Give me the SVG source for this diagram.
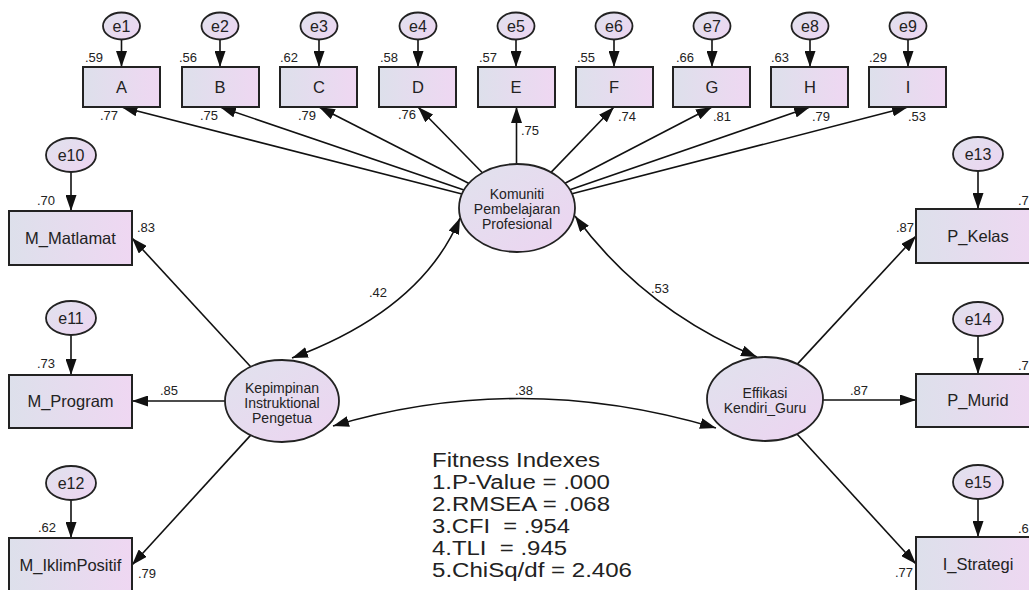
<svg xmlns="http://www.w3.org/2000/svg" width="1029" height="590" viewBox="0 0 1029 590">
<style>
.box{stroke:#222;stroke-width:2;fill:url(#gb)}
.lat{stroke:#222;stroke-width:1.8;fill:url(#ge)}
.err{stroke:#222;stroke-width:1.8;fill:url(#ge)}
.ln{stroke:#111;stroke-width:1.6;fill:none;marker-end:url(#ah)}
.cv{stroke:#111;stroke-width:1.6;fill:none;marker-end:url(#ah);marker-start:url(#ah)}
text{font-family:"Liberation Sans",Arial,sans-serif;fill:#222}
.bl{font-size:16.5px;text-anchor:middle}
.el{font-size:16px;text-anchor:middle}
.ll{font-size:14px;text-anchor:middle}
.nm{font-size:13px}
.fit{font-size:20px;white-space:pre}
</style>
<defs>
<linearGradient id="gb" x1="0" y1="0" x2="1" y2="0"><stop offset="0" stop-color="#dde0eb"/><stop offset="1" stop-color="#efd7f2"/></linearGradient>
<linearGradient id="ge" x1="0" y1="0" x2="1" y2="1"><stop offset="0" stop-color="#e0e2ed"/><stop offset="1" stop-color="#edd4f1"/></linearGradient>
<marker id="ah" viewBox="0 0 16 11" refX="16" refY="5.5" markerWidth="16" markerHeight="11" markerUnits="userSpaceOnUse" orient="auto-start-reverse"><path d="M0,0 L16,5.5 L0,11 z" fill="#111"/></marker>
</defs>
<rect width="1029" height="590" fill="#fff"/>

<g id="connectors">
<line class="ln" x1="121.5" y1="39.5" x2="121.5" y2="67"/>
<line class="ln" x1="220" y1="39.5" x2="220" y2="67"/>
<line class="ln" x1="319" y1="39.5" x2="319" y2="67"/>
<line class="ln" x1="418" y1="39.5" x2="418" y2="67"/>
<line class="ln" x1="516" y1="39.5" x2="516" y2="67"/>
<line class="ln" x1="614" y1="39.5" x2="614" y2="67"/>
<line class="ln" x1="712" y1="39.5" x2="712" y2="67"/>
<line class="ln" x1="810" y1="39.5" x2="810" y2="67"/>
<line class="ln" x1="908" y1="39.5" x2="908" y2="67"/>
<line class="ln" x1="71" y1="172" x2="71" y2="211"/>
<line class="ln" x1="71" y1="335" x2="71" y2="375"/>
<line class="ln" x1="71" y1="500" x2="71" y2="538"/>
<line class="ln" x1="978" y1="171" x2="978" y2="209"/>
<line class="ln" x1="978" y1="336" x2="978" y2="374"/>
<line class="ln" x1="978" y1="499" x2="978" y2="537"/>
<line class="ln" x1="462" y1="194" x2="121.5" y2="107"/>
<line class="ln" x1="464" y1="190" x2="220" y2="107"/>
<line class="ln" x1="469" y1="183.5" x2="319" y2="107"/>
<line class="ln" x1="482.4" y1="172.7" x2="418" y2="107"/>
<line class="ln" x1="516.5" y1="164" x2="516.5" y2="107"/>
<line class="ln" x1="551" y1="172.4" x2="614" y2="107"/>
<line class="ln" x1="565" y1="183.2" x2="712" y2="107"/>
<line class="ln" x1="570" y1="189.8" x2="810" y2="107"/>
<line class="ln" x1="572" y1="193.8" x2="908" y2="107"/>
<line class="ln" x1="250.7" y1="366.7" x2="132" y2="238"/>
<line class="ln" x1="225" y1="401" x2="132" y2="401"/>
<line class="ln" x1="250.5" y1="435.4" x2="132" y2="565"/>
<line class="ln" x1="797.3" y1="364.1" x2="916" y2="236"/>
<line class="ln" x1="823" y1="400" x2="916" y2="400"/>
<line class="ln" x1="797" y1="434" x2="916" y2="564"/>
<path class="cv" d="M292,358 Q421.5,310 460,218"/>
<path class="cv" d="M575,216 Q644,310 757,357"/>
<path class="cv" d="M333,426 Q521,370 716,428"/>
</g>

<g id="e1"><ellipse class="err" cx="121.5" cy="26" rx="18.5" ry="13.5"/><text class="el" x="121.5" y="32">e1</text></g>
<g id="e2"><ellipse class="err" cx="220" cy="26" rx="18.5" ry="13.5"/><text class="el" x="220" y="32">e2</text></g>
<g id="e3"><ellipse class="err" cx="319" cy="26" rx="18.5" ry="13.5"/><text class="el" x="319" y="32">e3</text></g>
<g id="e4"><ellipse class="err" cx="418" cy="26" rx="18.5" ry="13.5"/><text class="el" x="418" y="32">e4</text></g>
<g id="e5"><ellipse class="err" cx="516" cy="26" rx="18.5" ry="13.5"/><text class="el" x="516" y="32">e5</text></g>
<g id="e6"><ellipse class="err" cx="614" cy="26" rx="18.5" ry="13.5"/><text class="el" x="614" y="32">e6</text></g>
<g id="e7"><ellipse class="err" cx="712" cy="26" rx="18.5" ry="13.5"/><text class="el" x="712" y="32">e7</text></g>
<g id="e8"><ellipse class="err" cx="810" cy="26" rx="18.5" ry="13.5"/><text class="el" x="810" y="32">e8</text></g>
<g id="e9"><ellipse class="err" cx="908" cy="26" rx="18.5" ry="13.5"/><text class="el" x="908" y="32">e9</text></g>
<g id="e10"><ellipse class="err" cx="71" cy="155" rx="25" ry="17"/><text class="el" x="71" y="161">e10</text></g>
<g id="e11"><ellipse class="err" cx="71" cy="318" rx="25" ry="17"/><text class="el" x="71" y="324">e11</text></g>
<g id="e12"><ellipse class="err" cx="71" cy="483" rx="25" ry="17"/><text class="el" x="71" y="489">e12</text></g>
<g id="e13"><ellipse class="err" cx="978" cy="154" rx="25" ry="17"/><text class="el" x="978" y="160">e13</text></g>
<g id="e14"><ellipse class="err" cx="978" cy="319" rx="25" ry="17"/><text class="el" x="978" y="325">e14</text></g>
<g id="e15"><ellipse class="err" cx="978" cy="482" rx="25" ry="17"/><text class="el" x="978" y="488">e15</text></g>

<g id="A"><rect class="box" x="83" y="67" width="77" height="40"/><text class="bl" x="121.5" y="93">A</text><text class="nm" x="85" y="62">.59</text><text class="nm" x="100" y="120">.77</text></g>
<g id="B"><rect class="box" x="182" y="67" width="77" height="40"/><text class="bl" x="220" y="93">B</text><text class="nm" x="179" y="62">.56</text><text class="nm" x="200" y="120">.75</text></g>
<g id="C"><rect class="box" x="280" y="67" width="77" height="40"/><text class="bl" x="319" y="93">C</text><text class="nm" x="280" y="62">.62</text><text class="nm" x="298" y="120">.79</text></g>
<g id="D"><rect class="box" x="379" y="67" width="77" height="40"/><text class="bl" x="418" y="93">D</text><text class="nm" x="380" y="62">.58</text><text class="nm" x="398" y="119">.76</text></g>
<g id="E"><rect class="box" x="478" y="67" width="77" height="40"/><text class="bl" x="516" y="93">E</text><text class="nm" x="479" y="62">.57</text><text class="nm" x="521" y="135">.75</text></g>
<g id="F"><rect class="box" x="576" y="67" width="77" height="40"/><text class="bl" x="614" y="93">F</text><text class="nm" x="577" y="62">.55</text><text class="nm" x="618" y="121">.74</text></g>
<g id="G"><rect class="box" x="673" y="67" width="77" height="40"/><text class="bl" x="712" y="93">G</text><text class="nm" x="676" y="62">.66</text><text class="nm" x="713" y="121">.81</text></g>
<g id="H"><rect class="box" x="771" y="67" width="77" height="40"/><text class="bl" x="810" y="93">H</text><text class="nm" x="771" y="62">.63</text><text class="nm" x="812" y="121">.79</text></g>
<g id="I"><rect class="box" x="869" y="67" width="77" height="40"/><text class="bl" x="908" y="93">I</text><text class="nm" x="869" y="62">.29</text><text class="nm" x="908" y="121">.53</text></g>

<g id="M_Matlamat"><rect class="box" x="9" y="211" width="123" height="54"/><text class="bl" x="70.5" y="244">M_Matlamat</text><text class="nm" x="37" y="205">.70</text><text class="nm" x="137" y="232">.83</text></g>
<g id="M_Program"><rect class="box" x="9" y="375" width="123" height="53"/><text class="bl" x="70.5" y="407">M_Program</text><text class="nm" x="37" y="368">.73</text><text class="nm" x="160" y="395">.85</text></g>
<g id="M_IklimPositif"><rect class="box" x="9" y="538" width="123" height="54"/><text class="bl" x="70.5" y="571">M_IklimPositif</text><text class="nm" x="38" y="532">.62</text><text class="nm" x="138" y="578">.79</text></g>

<g id="P_Kelas"><rect class="box" x="916" y="209" width="124" height="54"/><text class="bl" x="978" y="242">P_Kelas</text><text class="nm" x="1018" y="205">.7</text><text class="nm" x="896" y="232">.87</text></g>
<g id="P_Murid"><rect class="box" x="916" y="374" width="124" height="53"/><text class="bl" x="978" y="406">P_Murid</text><text class="nm" x="1018" y="370">.7</text><text class="nm" x="850" y="395">.87</text></g>
<g id="I_Strategi"><rect class="box" x="916" y="537" width="124" height="56"/><text class="bl" x="978" y="570">I_Strategi</text><text class="nm" x="1018" y="533">.6</text><text class="nm" x="895" y="577">.77</text></g>

<g id="Komuniti"><ellipse class="lat" cx="517" cy="208" rx="58" ry="44"/><text class="ll" x="517" y="198.5">Komuniti</text><text class="ll" x="517" y="213.5">Pembelajaran</text><text class="ll" x="517" y="228.5">Profesional</text></g>
<g id="Kepimpinan"><ellipse class="lat" cx="282" cy="401" rx="57" ry="41"/><text class="ll" x="282" y="392.5">Kepimpinan</text><text class="ll" x="282" y="407.5">Instruktional</text><text class="ll" x="282" y="422.5">Pengetua</text></g>
<g id="Effikasi"><ellipse class="lat" cx="765" cy="399" rx="58" ry="42"/><text class="ll" x="765" y="397.5">Effikasi</text><text class="ll" x="765" y="412.5">Kendiri_Guru</text></g>

<g id="cov-labels">
<text class="nm" x="369" y="297">.42</text>
<text class="nm" x="651" y="293">.53</text>
<text class="nm" x="515" y="395">.38</text>
</g>

<g id="fitness">
<text class="fit" x="432" y="467" textLength="168" lengthAdjust="spacingAndGlyphs">Fitness Indexes</text>
<text class="fit" x="432" y="489" textLength="178" lengthAdjust="spacingAndGlyphs">1.P-Value = .000</text>
<text class="fit" x="432" y="511" textLength="178" lengthAdjust="spacingAndGlyphs">2.RMSEA = .068</text>
<text class="fit" x="432" y="533" textLength="138" lengthAdjust="spacingAndGlyphs">3.CFI  = .954</text>
<text class="fit" x="432" y="555" textLength="135" lengthAdjust="spacingAndGlyphs">4.TLI  = .945</text>
<text class="fit" x="432" y="577" textLength="200" lengthAdjust="spacingAndGlyphs">5.ChiSq/df = 2.406</text>
</g>
</svg>
